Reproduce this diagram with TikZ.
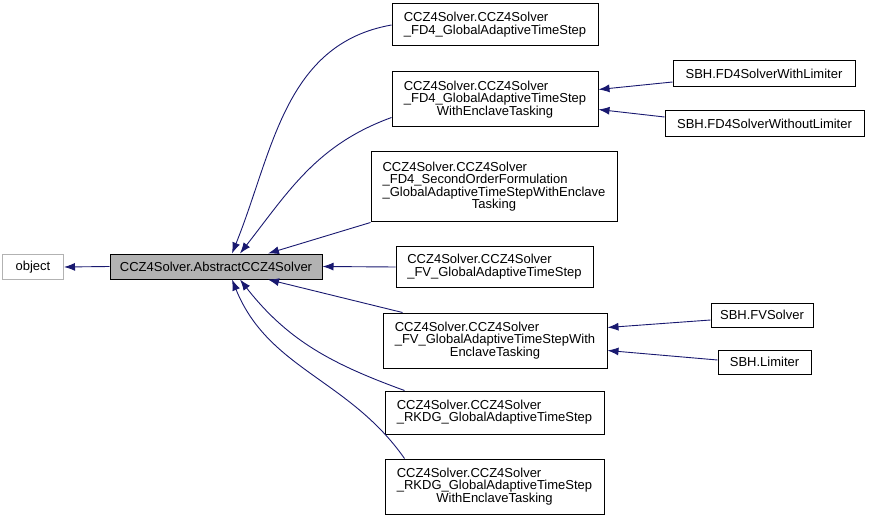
\documentclass[tikz,border=0pt]{standalone}
\usepackage{fontspec}
\setmainfont{Liberation Sans}
\usetikzlibrary{arrows.meta}
\definecolor{edgeblue}{HTML}{191970}
\newcommand{\lastc}[1]{\multicolumn{1}{@{}c@{}}{#1}}
\newcommand{\cls}[1]{\begin{tabular}{@{}l@{}}#1\end{tabular}}
\begin{document}
\begin{tikzpicture}[x=1pt,y=-1pt,
	cls/.style={draw,line width=1pt,inner sep=0pt,font=\fontsize{13}{14.5}\selectfont},
	edge/.style={draw=edgeblue,line width=0.9pt,{Latex[length=11pt,width=8pt,fill=edgeblue]}-}]
	\renewcommand{\arraystretch}{0.72}
	\useasboundingbox (0,0) rectangle (869,521);
	% base classes
	\node [cls,draw=black!30,minimum width=61,minimum height=25] (obj) at (33,267) {object};
	\node [cls,fill=black!30,minimum width=212,minimum height=25] (abs) at (216,266.5) {CCZ4Solver.AbstractCCZ4Solver};
	% solvers
	\node [cls,minimum width=206,minimum height=42] (fdg) at (495,25) {\cls{CCZ4Solver.CCZ4Solver\\\_FD4\_GlobalAdaptiveTimeStep}};
	\node [cls,minimum width=206,minimum height=55] (fde) at (495,99.5) {\cls{CCZ4Solver.CCZ4Solver\\\_FD4\_GlobalAdaptiveTimeStep\\\lastc{WithEnclaveTasking}}};
	\node [cls,minimum width=246,minimum height=70] (fds) at (494,187) {\cls{CCZ4Solver.CCZ4Solver\\\_FD4\_SecondOrderFormulation\\\_GlobalAdaptiveTimeStepWithEnclave\\\lastc{Tasking}}};
	\node [cls,minimum width=197,minimum height=41] (fvg) at (494.5,267) {\cls{CCZ4Solver.CCZ4Solver\\\_FV\_GlobalAdaptiveTimeStep}};
	\node [cls,minimum width=224,minimum height=55] (fve) at (495,340.5) {\cls{CCZ4Solver.CCZ4Solver\\\_FV\_GlobalAdaptiveTimeStepWith\\\lastc{EnclaveTasking}}};
	\node [cls,minimum width=219,minimum height=43] (rkg) at (494.5,412.5) {\cls{CCZ4Solver.CCZ4Solver\\\_RKDG\_GlobalAdaptiveTimeStep}};
	\node [cls,minimum width=219,minimum height=55] (rke) at (494.5,486.5) {\cls{CCZ4Solver.CCZ4Solver\\\_RKDG\_GlobalAdaptiveTimeStep\\\lastc{WithEnclaveTasking}}};
	% SBH
	\node [cls,minimum width=182,minimum height=26] (wl) at (764,74) {SBH.FD4SolverWithLimiter};
	\node [cls,minimum width=199,minimum height=26] (wol) at (764.5,124) {SBH.FD4SolverWithoutLimiter};
	\node [cls,minimum width=102,minimum height=24] (fvs) at (762,315) {SBH.FVSolver};
	\node [cls,minimum width=93,minimum height=24] (lim) at (764.5,362) {SBH.Limiter};
	% edges
	\draw [edge] (obj.east) -- (abs.west);
	\draw [edge] ([xshift=16]abs.north) to[out=68,in=190] (fdg.west);
	\draw [edge] ([xshift=24]abs.north) to[out=52,in=200] ([yshift=-18]fde.west);
	\draw [edge] ([xshift=52]abs.north) -- (fds.south west);
	\draw [edge] (abs.east) -- (fvg.west);
	\draw [edge] ([xshift=52]abs.south) -- ([xshift=20]fve.north west);
	\draw [edge] ([xshift=24]abs.south) to[out=-52,in=160] ([xshift=20]rkg.north west);
	\draw [edge] ([xshift=16]abs.south) to[out=-68,in=125] ([xshift=20]rke.north west);
	\draw [edge] ([yshift=10]fde.east) -- ([yshift=-8]wl.west);
	\draw [edge] ([yshift=-10]fde.east) -- ([yshift=7]wol.west);
	\draw [edge] ([yshift=13]fve.east) -- ([yshift=-5]fvs.west);
	\draw [edge] ([yshift=-10]fve.east) -- ([yshift=2]lim.west);
\end{tikzpicture}
\end{document}
